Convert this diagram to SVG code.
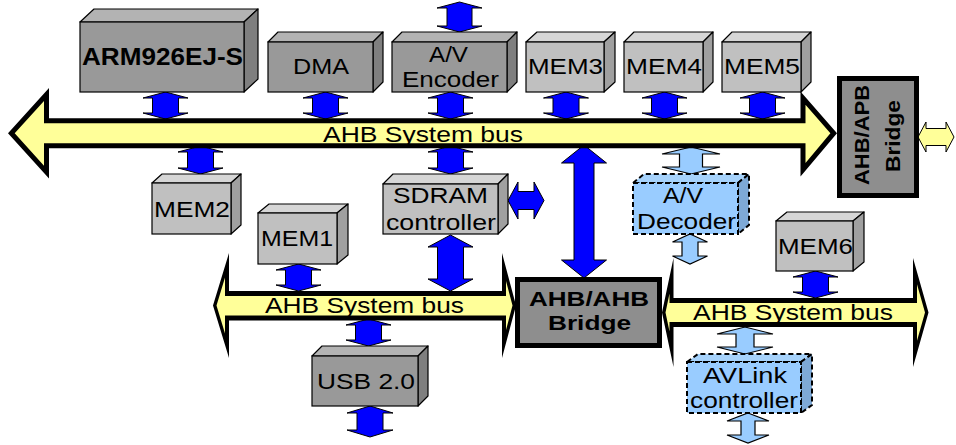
<svg xmlns="http://www.w3.org/2000/svg" width="956" height="445" viewBox="0 0 956 445">
  <style>
    .lbl { font-family: "Liberation Sans", Arial, sans-serif; font-size: 22px; fill: #000; text-anchor: middle; }
    .bold { font-weight: bold; }
    .front-dark { fill: #999999; stroke: #000; stroke-width: 1.2; }
    .top-dark { fill: #b3b3b3; stroke: #000; stroke-width: 1.2; stroke-linejoin: round; }
    .side-dark { fill: #7f7f7f; stroke: #000; stroke-width: 1.2; stroke-linejoin: round; }
    .front-light { fill: #c0c0c0; stroke: #000; stroke-width: 1.2; }
    .top-light { fill: #d6d6d6; stroke: #000; stroke-width: 1.2; stroke-linejoin: round; }
    .side-light { fill: #a0a0a0; stroke: #000; stroke-width: 1.2; stroke-linejoin: round; }
    .front-blue { fill: #99ccff; stroke: #000; stroke-width: 2; stroke-dasharray: 5 3; }
    .top-blue { fill: #a6d2fb; stroke: #000; stroke-width: 2; stroke-dasharray: 5 3; }
    .side-blue { fill: #7ea9d6; stroke: #000; stroke-width: 2; stroke-dasharray: 5 3; }
    .bus-edge { fill: #000; }
    .bus-fill { fill: #ffff99; }
    .bridge { fill: #8e8e8e; stroke: #000; stroke-width: 5; }
    .arr-blue { fill: #0000ff; stroke: #000; stroke-width: 1; stroke-linejoin: miter; }
    .arr-sky { fill: #99ccff; stroke: #000; stroke-width: 1.2; stroke-linejoin: miter; }
    .arr-yellow { fill: #ffff99; stroke: #000; stroke-width: 1; }
  </style>

  <rect x="0" y="0" width="956" height="445" fill="#ffffff"/>

  <!-- double-headed data-path arrows -->
  <g id="connectors">
    <path class="arr-blue" d="M165.5,92 L188,98 L178.5,98 L178.5,113 L188,113 L165.5,119 L143,113 L152.5,113 L152.5,98 L143,98 Z"/>
    <path class="arr-blue" d="M325.5,92 L348,98 L338.5,98 L338.5,113 L348,113 L325.5,119 L303,113 L312.5,113 L312.5,98 L303,98 Z"/>
    <path class="arr-blue" d="M450.5,92 L473,98 L463.5,98 L463.5,113 L473,113 L450.5,119 L428,113 L437.5,113 L437.5,98 L428,98 Z"/>
    <path class="arr-blue" d="M566,92 L588.5,98 L579,98 L579,113 L588.5,113 L566,119 L543.5,113 L553,113 L553,98 L543.5,98 Z"/>
    <path class="arr-blue" d="M664.5,92 L687,98 L677.5,98 L677.5,113 L687,113 L664.5,119 L642,113 L651.5,113 L651.5,98 L642,98 Z"/>
    <path class="arr-blue" d="M762.5,92 L785,98 L775.5,98 L775.5,113 L785,113 L762.5,119 L740,113 L749.5,113 L749.5,98 L740,98 Z"/>
    <path class="arr-blue" d="M459.5,2 L482,8 L472,8 L472,26 L482,26 L459.5,32 L437,26 L447,26 L447,8 L437,8 Z"/>
    <path class="arr-blue" d="M200.5,146 L223,152 L213.5,152 L213.5,168 L223,168 L200.5,174 L178,168 L187.5,168 L187.5,152 L178,152 Z"/>
    <path class="arr-blue" d="M450.5,146 L473,152 L463.5,152 L463.5,168 L473,168 L450.5,174 L428,168 L437.5,168 L437.5,152 L428,152 Z"/>
    <path class="arr-blue" d="M450.5,235 L473,247 L463.5,247 L463.5,279 L473,279 L450.5,291 L428,279 L437.5,279 L437.5,247 L428,247 Z"/>
    <path class="arr-blue" d="M298.5,264 L321,270 L311.5,270 L311.5,285 L321,285 L298.5,291 L276,285 L285.5,285 L285.5,270 L276,270 Z"/>
    <path class="arr-blue" d="M368.5,319 L391,325 L381.5,325 L381.5,340 L391,340 L368.5,346 L346,340 L355.5,340 L355.5,325 L346,325 Z"/>
    <path class="arr-blue" d="M370,406 L393,413 L383,413 L383,430 L393,430 L370,437 L347,430 L357,430 L357,413 L347,413 Z"/>
    <path class="arr-blue" d="M815.5,271 L838,277 L828.5,277 L828.5,292 L838,292 L815.5,298 L793,292 L802.5,292 L802.5,277 L793,277 Z"/>
    <path class="arr-blue" d="M584,145 L606.5,163 L594,163 L594,260 L606.5,260 L584,278 L561.5,260 L574,260 L574,163 L561.5,163 Z"/>
    <path class="arr-blue" d="M508,200.5 L518,182 L518,191.5 L534,191.5 L534,182 L544,200.5 L534,219 L534,209.5 L518,209.5 L518,219 Z"/>
    <path class="arr-sky" d="M691,147 L720,154 L702.5,154 L702.5,167 L720,167 L691,174 L662,167 L679.5,167 L679.5,154 L662,154 Z"/>
    <path class="arr-sky" d="M690,234 L707.5,242 L698,242 L698,256 L707.5,256 L690,264 L672.5,256 L682,256 L682,242 L672.5,242 Z"/>
    <path class="arr-sky" d="M745,327 L773,334 L754,334 L754,347 L773,347 L745,354 L717,347 L736,347 L736,334 L717,334 Z"/>
    <path class="arr-sky" d="M748,413 L769,421 L755,421 L755,435 L769,435 L748,443 L727,435 L741,435 L741,421 L727,421 Z"/>
    <path class="arr-yellow" d="M918,137 L926,122 L926,128.5 L946,128.5 L946,122 L954,137 L946,152 L946,145.5 L926,145.5 L926,152 Z"/>
  </g>

  <!-- main AHB bus -->
  <g id="bus-main">
    <polygon class="bus-edge" points="8,133.3 49,88 49,118.3 800.5,118.3 800.5,91.5 837,133.3 800.5,176.5 800.5,148.3 49,148.3 49,178.6"/>
    <polygon class="bus-fill" points="14.7,133.3 44,100.9 44,123.3 805.5,123.3 805.5,104.8 830.4,133.3 805.5,162.9 805.5,143.3 44,143.3 44,165.7"/>
    <text class="lbl" x="423" y="142" textLength="200" lengthAdjust="spacingAndGlyphs">AHB System bus</text>
  </g>

  <!-- left AHB bus -->
  <g id="bus-left">
    <polygon class="bus-edge" points="213,305.5 229,253 229,291 502,291 502,253 516,305.5 502,358 502,320.5 229,320.5 229,358"/>
    <polygon class="bus-fill" points="216.5,305.5 225,277.6 225,296 506,296 506,281.1 512.5,305.5 506,329.9 506,315.5 225,315.5 225,333.4"/>
    <text class="lbl" x="364.5" y="313" textLength="199" lengthAdjust="spacingAndGlyphs">AHB System bus</text>
  </g>

  <!-- right AHB bus -->
  <g id="bus-right">
    <polygon class="bus-edge" points="662,312.5 673.5,258 673.5,298 913,298 913,258 928.5,312.5 913,367 913,327 673.5,327 673.5,367"/>
    <polygon class="bus-fill" points="665.5,312.5 669.5,293.5 669.5,303 917,303 917,284.3 925,312.5 917,340.7 917,322 669.5,322 669.5,331.5"/>
    <text class="lbl" x="793" y="320" textLength="200" lengthAdjust="spacingAndGlyphs">AHB System bus</text>
  </g>

  <g id="arm926">
    <polygon class="top-dark" points="80,22 94,9 258,9 244,22"/>
    <polygon class="side-dark" points="244,22 258,9 258,79 244,92"/>
    <rect class="front-dark" x="80" y="22" width="164" height="70"/>
    <text class="lbl bold" style="font-size:23px" x="162.5" y="65" textLength="161" lengthAdjust="spacingAndGlyphs">ARM926EJ-S</text>
  </g>

  <g id="dma">
    <polygon class="top-dark" points="268,42 278,32 383,32 373,42"/>
    <polygon class="side-dark" points="373,42 383,32 383,82 373,92"/>
    <rect class="front-dark" x="268" y="42" width="105" height="50"/>
    <text class="lbl" x="321" y="74" textLength="56" lengthAdjust="spacingAndGlyphs">DMA</text>
  </g>

  <g id="av-encoder">
    <polygon class="top-dark" points="392,42 402,32 517,32 507,42"/>
    <polygon class="side-dark" points="507,42 517,32 517,82 507,92"/>
    <rect class="front-dark" x="392" y="42" width="115" height="50"/>
    <text class="lbl" x="448.5" y="62" textLength="39" lengthAdjust="spacingAndGlyphs">A/V</text>
    <text class="lbl" x="450.5" y="87" textLength="97" lengthAdjust="spacingAndGlyphs">Encoder</text>
  </g>

  <g id="mem3">
    <polygon class="top-light" points="526,42 537,32 615,32 604,42"/>
    <polygon class="side-light" points="604,42 615,32 615,82 604,92"/>
    <rect class="front-light" x="526" y="42" width="78" height="50"/>
    <text class="lbl" x="565.5" y="74" textLength="75" lengthAdjust="spacingAndGlyphs">MEM3</text>
  </g>

  <g id="mem4">
    <polygon class="top-light" points="624,42 634,32 713,32 703,42"/>
    <polygon class="side-light" points="703,42 713,32 713,82 703,92"/>
    <rect class="front-light" x="624" y="42" width="79" height="50"/>
    <text class="lbl" x="664" y="74" textLength="76" lengthAdjust="spacingAndGlyphs">MEM4</text>
  </g>

  <g id="mem5">
    <polygon class="top-light" points="722,42 732,32 811,32 801,42"/>
    <polygon class="side-light" points="801,42 811,32 811,82 801,92"/>
    <rect class="front-light" x="722" y="42" width="79" height="50"/>
    <text class="lbl" x="762" y="74" textLength="76" lengthAdjust="spacingAndGlyphs">MEM5</text>
  </g>

  <g id="ahb-apb-bridge">
    <rect class="bridge" x="839.5" y="78.5" width="77" height="117"/>
    <text class="lbl bold" style="font-size:21px" transform="translate(869,135) rotate(-90)" textLength="100" lengthAdjust="spacingAndGlyphs">AHB/APB</text>
    <text class="lbl bold" style="font-size:21px" transform="translate(900,136) rotate(-90)" textLength="72" lengthAdjust="spacingAndGlyphs">Bridge</text>
  </g>

  <g id="mem2">
    <polygon class="top-light" points="152,183 162,174 241,174 231,183"/>
    <polygon class="side-light" points="231,183 241,174 241,225 231,234"/>
    <rect class="front-light" x="152" y="183" width="79" height="51"/>
    <text class="lbl" x="192" y="217" textLength="76" lengthAdjust="spacingAndGlyphs">MEM2</text>
  </g>

  <g id="mem1">
    <polygon class="top-light" points="258,213 269,204 348,204 337,213"/>
    <polygon class="side-light" points="337,213 348,204 348,255 337,264"/>
    <rect class="front-light" x="258" y="213" width="79" height="51"/>
    <text class="lbl" x="297" y="246" textLength="72" lengthAdjust="spacingAndGlyphs">MEM1</text>
  </g>

  <g id="sdram-controller">
    <polygon class="top-light" points="383,184 393,174 508,174 498,184"/>
    <polygon class="side-light" points="498,184 508,174 508,224 498,234"/>
    <rect class="front-light" x="383" y="184" width="115" height="50"/>
    <text class="lbl" x="440.5" y="203" textLength="95" lengthAdjust="spacingAndGlyphs">SDRAM</text>
    <text class="lbl" x="441" y="230" textLength="110" lengthAdjust="spacingAndGlyphs">controller</text>
  </g>

  <g id="av-decoder">
    <polygon class="top-blue" points="633,183 644,174 749,174 738,183"/>
    <polygon class="side-blue" points="738,183 749,174 749,225 738,234"/>
    <rect class="front-blue" x="633" y="183" width="105" height="51"/>
    <text class="lbl" x="683" y="203" textLength="40" lengthAdjust="spacingAndGlyphs">A/V</text>
    <text class="lbl" x="686.5" y="229" textLength="99" lengthAdjust="spacingAndGlyphs">Decoder</text>
  </g>

  <g id="mem6">
    <polygon class="top-light" points="776,221 787,212 864,212 853,221"/>
    <polygon class="side-light" points="853,221 864,212 864,262 853,271"/>
    <rect class="front-light" x="776" y="221" width="77" height="50"/>
    <text class="lbl" x="815.5" y="254" textLength="75" lengthAdjust="spacingAndGlyphs">MEM6</text>
  </g>

  <g id="ahb-ahb-bridge">
    <rect class="bridge" x="517.5" y="279.5" width="142" height="66"/>
    <text class="lbl bold" style="font-size:21px" x="589" y="306" textLength="120" lengthAdjust="spacingAndGlyphs">AHB/AHB</text>
    <text class="lbl bold" style="font-size:21px" x="589.5" y="330" textLength="83" lengthAdjust="spacingAndGlyphs">Bridge</text>
  </g>

  <g id="usb20">
    <polygon class="top-dark" points="312,356 322,346 428,346 418,356"/>
    <polygon class="side-dark" points="418,356 428,346 428,396 418,406"/>
    <rect class="front-dark" x="312" y="356" width="106" height="50"/>
    <text class="lbl" x="366" y="389" textLength="98" lengthAdjust="spacingAndGlyphs">USB 2.0</text>
  </g>

  <g id="avlink-controller">
    <polygon class="top-blue" points="687,362 698,354 812,354 801,362"/>
    <polygon class="side-blue" points="801,362 812,354 812,405 801,413"/>
    <rect class="front-blue" x="687" y="362" width="114" height="51"/>
    <text class="lbl" x="745" y="383" textLength="84" lengthAdjust="spacingAndGlyphs">AVLink</text>
    <text class="lbl" x="744" y="408" textLength="108" lengthAdjust="spacingAndGlyphs">controller</text>
  </g>
</svg>
